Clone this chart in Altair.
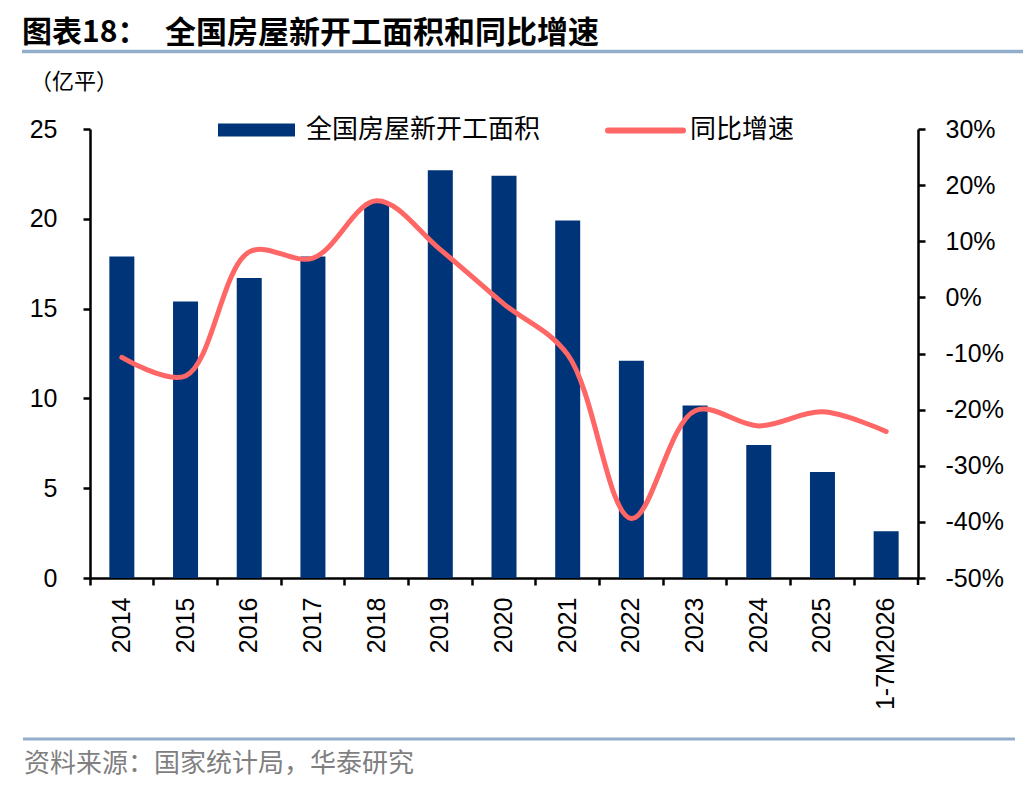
import altair as alt
import pandas as pd

categories = ["2014", "2015", "2016", "2017", "2018", "2019", "2020",
              "2021", "2022", "2023", "2024", "2025", "1-7M2026"]
area_values = [17.9, 15.4, 16.7, 17.9, 20.9, 22.7, 22.4, 19.9, 12.1, 9.6, 7.4, 5.9, 2.6]
yoy_values = [-10.7, -14.0, 8.1, 7.0, 17.2, 8.5, -1.2, -10.2, -39.4, -20.2, -22.9, -20.4, -23.9]
left_ticks = [0, 5, 10, 15, 20, 25]
right_ticks = [-0.5, -0.4, -0.3, -0.2, -0.1, 0.0, 0.1, 0.2, 0.3]

df = pd.DataFrame({
    "cat": categories,
    "area": area_values,
    "yoy": [v / 100 for v in yoy_values],
})
one = pd.DataFrame({"k": [0]})

X0, Y0 = 90, 129   # page position of plot origin
W, H = 828, 449
NAVY = "#003478"
RED = "#FF6666"
LINEC = "#93AECB"
CJK = "Noto Sans CJK SC"
LAT = "Liberation Sans"

axis_common = dict(
    title=None, grid=False, labelFont=LAT, labelFontSize=25, labelColor="black",
    tickSize=7, tickWidth=2.5, tickColor="black",
    domainColor="black", domainWidth=2.5,
)

xenc = alt.X(
    "cat:O", sort=categories,
    scale=alt.Scale(paddingInner=0, paddingOuter=0),
    axis=alt.Axis(labelAngle=-90, labelPadding=12, bandPosition=0,
                  labelAlign="right", labelBaseline="middle", **axis_common),
)

bars = alt.Chart(df).mark_bar(color=NAVY, size=25).encode(
    x=xenc,
    y=alt.Y("area:Q", scale=alt.Scale(domain=[0, 25], nice=False, zero=True),
            axis=alt.Axis(orient="left", values=left_ticks, labelPadding=26, **axis_common)),
)

line = alt.Chart(df).mark_line(color=RED, strokeWidth=5, interpolate="catmull-rom",
                               strokeCap="round").encode(
    x=alt.X("cat:O", sort=categories),
    y=alt.Y("yoy:Q", scale=alt.Scale(domain=[-0.5, 0.3], nice=False, zero=False),
            axis=alt.Axis(orient="right", values=right_ticks, labelPadding=20,
                          labelExpr="round(datum.value*100) + '%'", **axis_common)),
)


def txt(s, x, y, size, weight="normal", color="black", font=CJK):
    return alt.Chart(one).mark_text(
        text=s, align="left", baseline="middle", fontSize=size,
        fontWeight=weight, color=color, font=font,
    ).encode(x=alt.value(x - X0), y=alt.value(y - Y0))


def hrule(x1, x2, y, color, width):
    return alt.Chart(one).mark_rule(color=color, strokeWidth=width).encode(
        x=alt.value(x1 - X0), x2=alt.value(x2 - X0), y=alt.value(y - Y0))


title1 = txt("图表18：", 22, 33, 30, weight="bold")
title2 = txt("全国房屋新开工面积和同比增速", 165, 33.5, 31, weight="bold")
title_line = hrule(22, 1030, 51.5, LINEC, 3.5)
unit = txt("（亿平）", 30, 82, 22)

leg_rect = alt.Chart(one).mark_rect(color=NAVY).encode(
    x=alt.value(218 - X0), x2=alt.value(295 - X0),
    y=alt.value(123.5 - Y0), y2=alt.value(136.5 - Y0))
leg_text1 = txt("全国房屋新开工面积", 306, 130, 26)
leg_line = alt.Chart(one).mark_rule(color=RED, strokeWidth=6, strokeCap="round").encode(
    x=alt.value(608 - X0), x2=alt.value(683 - X0), y=alt.value(130.5 - Y0))
leg_text2 = txt("同比增速", 690, 130, 26)

end_tick = alt.Chart(one).mark_rule(color="black", strokeWidth=2.5).encode(
    x=alt.value(W), y=alt.value(H), y2=alt.value(H + 7))

bottom_line = hrule(23, 1015, 739, LINEC, 3)
source = txt("资料来源：国家统计局，华泰研究", 24, 764, 26, color="#7F7F7F")

chart = alt.layer(
    bars, line,
    title1, title2, title_line, unit,
    leg_rect, leg_text1, leg_line, leg_text2,
    end_tick, bottom_line, source,
).resolve_scale(y="independent").properties(
    width=W, height=H,
    padding={"left": X0 - 8, "top": Y0 - 8, "right": 105, "bottom": 205},
    autosize=alt.AutoSizeParams(type="none"),
    background="white",
).configure_view(stroke=None)

chart.save("out.html", embed_options={"renderer": "svg", "actions": False})
